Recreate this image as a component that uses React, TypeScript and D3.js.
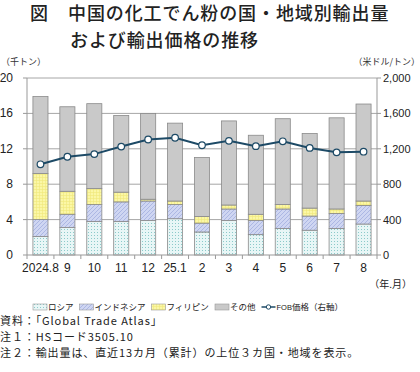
import * as d3 from 'd3';
import React from 'react';

const months = ['2024.8', '9', '10', '11', '12', '25.1', '2', '3', '4', '5', '6', '7', '8'];
const russia = [2.1, 3.1, 3.8, 3.8, 3.9, 4.1, 2.6, 3.9, 2.3, 3.0, 2.8, 3.0, 3.5];
const indonesia = [1.9, 1.5, 1.9, 2.2, 2.2, 1.6, 1.0, 1.3, 1.6, 2.2, 1.6, 1.7, 2.1];
const philippines = [5.2, 2.6, 1.8, 1.1, 0.2, 0.4, 0.75, 0.45, 0.7, 0.5, 0.9, 0.5, 0.5];
const others = [8.7, 9.55, 9.6, 8.67, 9.7, 8.8, 6.67, 9.5, 8.93, 9.7, 8.43, 10.3, 10.96];
const fobPrice = [1025, 1110, 1140, 1225, 1305, 1325, 1240, 1290, 1230, 1285, 1210, 1160, 1167];

const leftTicks = [0, 4, 8, 12, 16, 20];
const rightTicks = [0, 400, 800, 1200, 1600, 2000];

const seriesNames = ['ロシア', 'インドネシア', 'フィリピン', 'その他'];
const seriesFills = ['url(#pRussia)', 'url(#pIndo)', 'url(#pPhil)', '#c9c9c9'];

const W = 420;
const H = 372;
const left = 27;
const right = 377;
const top = 78;
const bottom = 255;
const lineColor = '#1d4a66';
const font = '"Liberation Sans", Arial, "Noto Sans CJK JP", sans-serif';
const jpFont = '"Noto Sans CJK JP", sans-serif';

const App: React.FC = () => {
  const x = d3.scaleBand<string>().domain(months).range([left, right]).paddingInner(0.44).paddingOuter(0.22);
  const yL = d3.scaleLinear().domain([0, 20]).range([bottom, top]);
  const yR = d3.scaleLinear().domain([0, 2000]).range([bottom, top]);

  const rows = months.map((m, i) => ({
    month: m,
    ロシア: russia[i],
    インドネシア: indonesia[i],
    フィリピン: philippines[i],
    その他: others[i],
  }));
  const stacked = d3.stack<any>().keys(seriesNames)(rows);

  const cx = (m: string) => (x(m) ?? 0) + x.bandwidth() / 2;
  const line = d3.line<number>()
    .x((_d, i) => cx(months[i]))
    .y(d => yR(d));

  const step = x.step();

  // 凡例の配置（文字数から順に並べる）
  const lfs = 8.5;
  const legendY = 307;
  let lx = 33;
  const legendItems = seriesNames.map((name, i) => {
    const item = { x: lx, label: name, fill: seriesFills[i] };
    lx += 15 + name.length * lfs + 6;
    return item;
  });
  const fobX = lx;

  return (
    <svg width={W} height={H} style={{ position: 'absolute', left: 0, top: 0, background: '#fff' }}>
      <defs>
        <pattern id="pRussia" width="3" height="3" patternUnits="userSpaceOnUse">
          <rect width="3" height="3" fill="#e8f6f6" />
          <rect x="1" y="1" width="1" height="1" fill="#8ccaca" />
        </pattern>
        <pattern id="pIndo" width="4" height="4" patternUnits="userSpaceOnUse">
          <rect width="4" height="4" fill="#cfd6f2" />
          <path d="M0,4 L4,0 M-1,1 L1,-1 M3,5 L5,3" stroke="#a3aee0" strokeWidth="0.8" />
        </pattern>
        <pattern id="pPhil" width="3" height="3" patternUnits="userSpaceOnUse">
          <rect width="3" height="3" fill="#fbf7a6" />
          <path d="M0,0.5 H3 M0.5,0 V3" stroke="#f0e77a" strokeWidth="0.6" />
        </pattern>
      </defs>

      {/* タイトル */}
      <g fontFamily={jpFont} fontWeight={500} fontSize={18} letterSpacing={0.9} fill="#222">
        <text x={30} y={20}>図</text>
        <text x={68} y={20}>中国の化工でん粉の国・地域別輸出量</text>
        <text x={70} y={46.5}>および輸出価格の推移</text>
      </g>

      {/* 単位 */}
      <text x={1} y={65} fontFamily={jpFont} fontSize={9} fill="#333">（千トン）</text>
      <text x={420} y={65} fontFamily={jpFont} fontSize={9} fill="#333" textAnchor="end">（米ドル/トン）</text>

      {/* グリッド */}
      {leftTicks.filter(t => t > 0).map(t => (
        <line key={t} x1={left} x2={right} y1={yL(t)} y2={yL(t)} stroke="#a6a6a6" strokeWidth={1} />
      ))}

      {/* 棒 */}
      {stacked.map((s, si) => (
        <g key={s.key}>
          {s.map((d, i) => (
            <rect
              key={i}
              x={x(months[i])}
              y={yL(d[1])}
              width={x.bandwidth()}
              height={yL(d[0]) - yL(d[1])}
              fill={seriesFills[si]}
              stroke="#8a8a8a"
              strokeWidth={0.8}
            />
          ))}
        </g>
      ))}

      {/* 軸 */}
      <line x1={left} x2={left} y1={top} y2={bottom} stroke="#999" />
      <line x1={right} x2={right} y1={top} y2={bottom} stroke="#999" />
      <line x1={left} x2={right} y1={bottom} y2={bottom} stroke="#999" />
      {leftTicks.map(t => (
        <g key={t}>
          <line x1={left - 4} x2={left} y1={yL(t)} y2={yL(t)} stroke="#999" />
          <text x={13} y={yL(t) + 4} textAnchor="end" fontFamily={font} fontSize={12} fill="#222">{t}</text>
        </g>
      ))}
      {rightTicks.map(t => (
        <g key={t}>
          <line x1={right} x2={right + 4} y1={yR(t)} y2={yR(t)} stroke="#999" />
          <text x={383} y={yR(t) + 4} fontFamily={font} fontSize={11} fill="#222">{d3.format(',')(t)}</text>
        </g>
      ))}
      {d3.range(months.length + 1).map(i => (
        <line key={i} x1={left + i * step} x2={left + i * step} y1={bottom} y2={bottom + 4} stroke="#999" />
      ))}
      {months.map(m => (
        <text key={m} x={cx(m)} y={272} textAnchor="middle" fontFamily={font} fontSize={12} fill="#222">{m}</text>
      ))}
      <text x={412} y={288} textAnchor="end" fontFamily={jpFont} fontSize={10} fill="#222">（年.月）</text>

      {/* FOB価格 */}
      <path d={line(fobPrice) ?? ''} fill="none" stroke={lineColor} strokeWidth={2} />
      {fobPrice.map((v, i) => (
        <circle key={i} cx={cx(months[i])} cy={yR(v)} r={3.3} fill="#fff" stroke={lineColor} strokeWidth={1.2} />
      ))}

      {/* 凡例 */}
      <g fontFamily={jpFont} fontSize={lfs} fill="#222">
        {legendItems.map(it => (
          <g key={it.label}>
            <rect x={it.x} y={legendY - 3} width={14} height={6} fill={it.fill} stroke="#999" strokeWidth={0.6} />
            <text x={it.x + 15} y={legendY + 3}>{it.label}</text>
          </g>
        ))}
        <line x1={fobX} x2={fobX + 14} y1={legendY} y2={legendY} stroke={lineColor} strokeWidth={1.5} />
        <circle cx={fobX + 7} cy={legendY} r={2.2} fill="#fff" stroke={lineColor} strokeWidth={1} />
        <text x={fobX + 15} y={legendY + 3}>
          <tspan fontFamily={font} fontSize={7.5}>FOB</tspan>価格（右軸）
        </text>
      </g>

      {/* 注記 */}
      <g fontFamily={jpFont} fontSize={11} letterSpacing={0.9} fill="#222">
        <text x={0} y={325}>資料：「Global Trade Atlas」</text>
        <text x={0} y={341}>注１：HSコード3505.10</text>
        <text x={0} y={357}>注２：輸出量は、直近13カ月（累計）の上位３カ国・地域を表示。</text>
      </g>
    </svg>
  );
};

export default App;
